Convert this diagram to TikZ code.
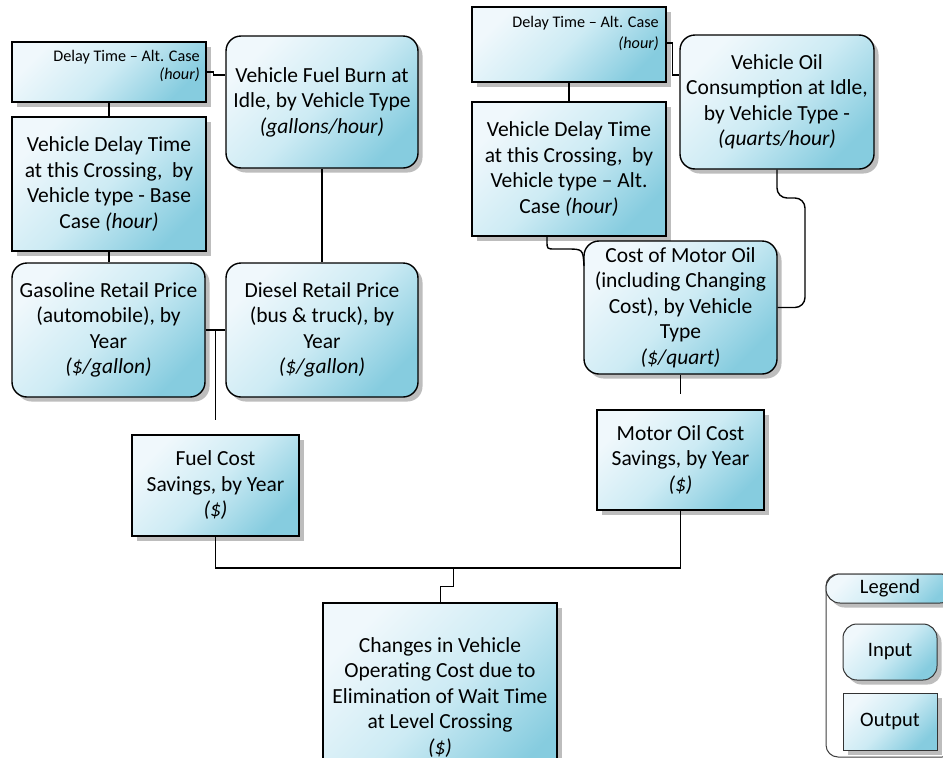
\documentclass[tikz,border=0pt]{standalone}
\usepackage{fontspec}
\setmainfont{Carlito}
\usetikzlibrary{shadows}

\definecolor{cardlight}{HTML}{F0F8FC}
\definecolor{cardmid}{HTML}{CDEBF4}
\definecolor{carddark}{HTML}{86CCDF}

\newcommand\cardfont{\fontsize{21.5}{25.5}\selectfont}
\newcommand\tagfont{\fontsize{16.2}{18.5}\selectfont}
\newcommand\legfont{\fontsize{20.5}{24}\selectfont}

\tikzset{
  card/.style={rectangle, draw=black, line width=1.4pt, inner sep=0pt, align=center,
    general shadow={fill=black!26, shadow xshift=4.5pt, shadow yshift=-4.5pt},
    top color=cardlight, bottom color=carddark, middle color=cardmid, shading angle=45,
    font=\cardfont},
  inbox/.style={card, rounded corners=15pt},
  outbox/.style={card},
  tag/.style={inner sep=0pt, align=right, font=\tagfont},
  link/.style={draw=black, line width=1.4pt},
  thinlink/.style={draw=black, line width=0.8pt},
  legframe/.style={draw=black!75, line width=1pt, rounded corners=12pt, fill=white},
  leghead/.style={card, line width=1pt, draw=black!80, rounded corners=14pt, font=\legfont},
  legitem/.style={card, line width=1pt, draw=black!80, font=\legfont}
}

\begin{document}
\begin{tikzpicture}[x=1pt, y=-1pt]
\useasboundingbox (0,0) rectangle (943,758);
\clip (0,0) rectangle (943,758);

% fuel branch
\node[outbox, minimum width=194pt, minimum height=60pt] (A) at (109,72) {};
\node[tag, anchor=north east] (Atag) at (200,50) {Delay Time – Alt. Case\\\textit{(hour)}};
\node[outbox, minimum width=194pt, minimum height=134pt] (B) at (109,184)
  {Vehicle Delay Time\\at this Crossing,\ \ by\\Vehicle type - Base\\Case \textit{(hour)}};
\node[inbox, minimum width=192pt, minimum height=132pt] (C) at (322,102)
  {Vehicle Fuel Burn at\\Idle, by Vehicle Type\\\textit{(gallons/hour)}};
\node[inbox, minimum width=193pt, minimum height=134pt] (D) at (108.5,330)
  {Gasoline Retail Price\\(automobile), by\\Year\\\textit{(\$/gallon)}};
\node[inbox, minimum width=192pt, minimum height=134pt] (E) at (322,330)
  {Diesel Retail Price\\(bus \& truck), by\\Year\\\textit{(\$/gallon)}};
\node[outbox, minimum width=167pt, minimum height=101pt] (F) at (215.5,485.5)
  {Fuel Cost\\Savings, by Year\\\textit{(\$)}};

% motor oil branch
\node[outbox, minimum width=194pt, minimum height=75pt] (G) at (569,44.5) {};
\node[tag, anchor=north east] (Gtag) at (659,16) {Delay Time – Alt. Case\\[2.5pt]\textit{(hour)}};
\node[outbox, minimum width=194pt, minimum height=134pt] (H) at (569,169)
  {Vehicle Delay Time\\at this Crossing,\ \ by\\Vehicle type – Alt.\\Case \textit{(hour)}};
\node[inbox, minimum width=194pt, minimum height=134pt] (I) at (777,102)
  {Vehicle Oil\\Consumption at Idle,\\by Vehicle Type -\\\textit{(quarts/hour)}};
\node[inbox, minimum width=193pt, minimum height=133pt] (J) at (680.5,307.5)
  {Cost of Motor Oil\\(including Changing\\Cost), by Vehicle\\Type\\\textit{(\$/quart)}};
\node[outbox, minimum width=167pt, minimum height=100pt] (K) at (680.5,460)
  {Motor Oil Cost\\Savings, by Year\\\textit{(\$)}};

% result
\node[outbox, minimum width=234pt, minimum height=189pt] (L) at (440,697.5)
  {Changes in Vehicle\\Operating Cost due to\\Elimination of Wait Time\\at Level Crossing\\\textit{(\$)}};

% connectors, fuel branch
\draw[link] (A.south) -- (B.north);
\draw[link] (A.east) -- ++(7,0) -- ++(0,3) -- (C.west |- 0,75);
\draw[link] (B.south) -- (B.south |- D.north);
\draw[link] (C.south) -- (E.north);
\draw[link] (D.east) -- (E.west);
\draw[link] (D.east -| F.north) -- ([yshift=14pt]F.north);
\coordinate (join) at (453,568);
\draw[link] (F.south) |- (join) -| (K.south);
\draw[thinlink] (join) -- ++(0,18) -| (L.north);

% connectors, motor oil branch
\draw[link] (G.south) -- (H.north);
\draw[link] (G.east |- 0,43) -- ++(6,0) -- ++(0,32) -- (I.west |- 0,75);
\draw[link] (H.south -| 547,0) -- (547,241) .. controls (547,249) .. (555,249)
  -- (566,249) .. controls (583,249) .. (584,266);
\draw[link, rounded corners=10pt] (I.south) -- (777,198) -- (805,198) -- (805,307.5) -- (J.east);
\draw[link] (J.south) -- ([yshift=15pt]K.north);

% legend
\node[legframe, minimum width=128pt, minimum height=183pt] (legend) at (890,665.5) {};
\node[leghead, minimum width=128pt, minimum height=29pt] (leghd) at (890,588.5) {Legend};
\node[legitem, rounded corners=14pt, minimum width=94pt, minimum height=56pt] (legin) at (890,652) {Input};
\node[legitem, minimum width=94pt, minimum height=57pt] (legout) at (890,721.5) {Output};
\end{tikzpicture}
\end{document}
